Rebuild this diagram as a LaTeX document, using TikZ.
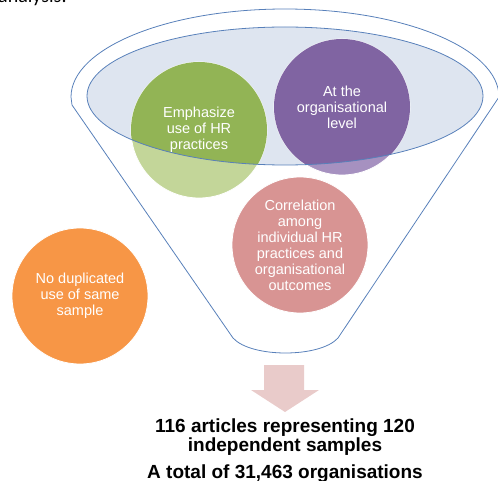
\documentclass[tikz,border=0pt]{standalone}
\usepackage{fontspec}
\setmainfont{Liberation Sans}
\newfontfamily\notefont{Carlito}
\usetikzlibrary{shapes.geometric}

\definecolor{rimline}{RGB}{88,128,186}
\definecolor{rimfill}{RGB}{222,229,240}
\definecolor{greenfull}{RGB}{146,180,85}
\definecolor{greenpale}{RGB}{195,214,153}
\definecolor{purplefull}{RGB}{128,100,162}
\definecolor{purplepale}{RGB}{166,145,192}
\definecolor{pinkfull}{RGB}{216,148,147}
\definecolor{orangefull}{RGB}{247,150,70}
\definecolor{arrowfill}{RGB}{233,203,202}

\tikzset{
  funnelline/.style={draw=rimline, line width=0.8pt},
  bubble/.style={circle, minimum size=136pt, inner sep=0pt, draw=white, line width=0.8pt},
  bubbletext/.style={text=white, align=center, font=\fontsize{14.5}{16}\selectfont, inner sep=0pt},
  result/.style={anchor=base, inner sep=0pt, font=\fontsize{19}{22}\selectfont\bfseries}
}

\begin{document}
\begin{tikzpicture}[x=1pt, y=-1pt]
\useasboundingbox (0,0) rectangle (498,481);
\clip (0,0) rectangle (498,481);

% heading fragment above the figure
\node[anchor=base west, inner sep=0pt, font=\notefont\fontsize{20}{24}\selectfont] (head) at (-2,3) {analysis.};

% funnel outline: upper half of the rim, sides and rounded bottom
\path[funnelline] (71,97)
  .. controls (71,48.4) and (166.8,9) .. (285,9)
  .. controls (403.2,9) and (499,48.4) .. (499,97)
  -- (338,338)
  .. controls (320,358) and (251,358) .. (233,338)
  -- (72,105) -- cycle;

% inner rim of the funnel
\node[ellipse, fill=rimfill, minimum width=396pt, minimum height=138pt, inner sep=0pt] (rim) at (285,96) {};

% criteria bubbles (pale where they hang outside the rim)
\node[bubble, fill=greenpale] (green) at (199,130) {};
\node[bubble, fill=purplepale] (purple) at (342,107) {};
\node[bubble, fill=pinkfull] (pink) at (300,245) {};
\node[bubble, fill=orangefull] (orange) at (80,296) {};

% full colour inside the rim
\begin{scope}
  \clip (285,96) ellipse [x radius=198pt, y radius=69pt];
  \fill[greenfull] (green.center) circle [radius=68pt];
  \fill[purplefull] (purple.center) circle [radius=68pt];
\end{scope}

% rim outline over the bubbles
\draw[rimline, line width=0.8pt] (rim.center) ellipse [x radius=198pt, y radius=69pt];

% bubble labels
\node[bubbletext] (greentext) at (green.center) {Emphasize\\use of HR\\practices};
\node[bubbletext] (purpletext) at (purple.center) {At the\\organisational\\level};
\node[bubbletext] (pinktext) at (pink.center) {Correlation\\among\\individual HR\\practices and\\organisational\\outcomes};
\node[bubbletext] (orangetext) at (orange.center) {No duplicated\\use of same\\sample};

% down arrow out of the funnel
\fill[arrowfill] (264,365) -- (304,365) -- (304,390) -- (319,390) -- (285,412)
  -- (251,390) -- (264,390) -- cycle;
\coordinate (arrowtip) at (285,412);

% result of the selection
\node[result] (res1) at (285,432) {116 articles representing 120};
\node[result] (res2) at (285,451) {independent samples};
\node[result] (res3) at (285,478) {A total of 31,463 organisations};
\end{tikzpicture}
\end{document}
